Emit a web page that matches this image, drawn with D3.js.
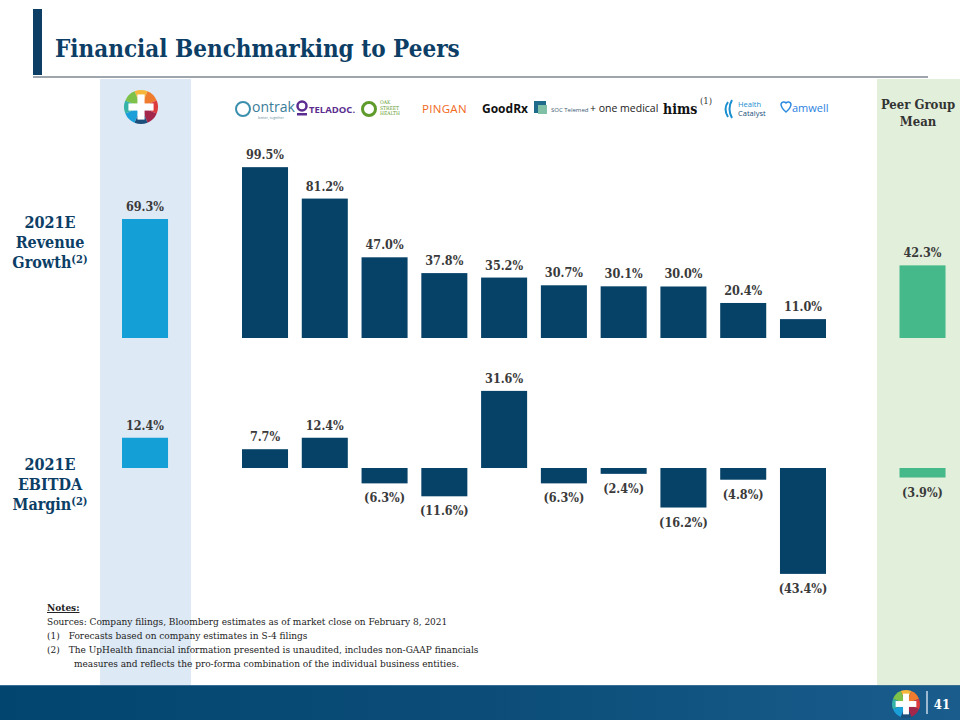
<!DOCTYPE html>
<html><head><meta charset="utf-8">
<script src="https://cdn.jsdelivr.net/npm/d3@7"></script>
<style>body{margin:0;background:#fff}svg{display:block}</style>
</head><body>
<svg id="c" width="960" height="720"></svg>
<script>
// ---- data ----
const peers = ["Ontrak","Teladoc","Oak Street Health","Ping An","GoodRx","SOC Telemed","One Medical","Hims","Health Catalyst","Amwell"];
const revenueGrowth = [99.5, 81.2, 47.0, 37.8, 35.2, 30.7, 30.1, 30.0, 20.4, 11.0];
const ebitdaMargin = [7.7, 12.4, -6.3, -11.6, 31.6, -6.3, -2.4, -16.2, -4.8, -43.4];
const upRevenue = 69.3, upEbitda = 12.4;
const meanRevenue = 42.3, meanEbitda = -3.9;
const noteLines = [
  "Sources: Company filings, Bloomberg estimates as of market close on February 8, 2021",
  "(1)\u2003Forecasts based on company estimates in S-4 filings",
  "(2)\u2003The UpHealth financial information presented is unaudited, includes non-GAAP financials",
  "\u2003\u2003\u2003measures and reflects the pro-forma combination of the individual business entities."
];

const SERIF = "'DejaVu Serif Condensed','DejaVu Serif','Liberation Serif',serif";
const navy = "#0c3e66", barDark = "#064268", upBlue = "#149fd6", green = "#46b98a";
const svg = d3.select("#c");
const fmt = v => v < 0 ? "(" + Math.abs(v).toFixed(1) + "%)" : v.toFixed(1) + "%";

// background bands
svg.append("rect").attr("x",100).attr("y",79).attr("width",91).attr("height",606).attr("fill","#dde9f5");
svg.append("rect").attr("x",877).attr("y",79).attr("width",83).attr("height",606).attr("fill","#e2efda");

// footer
const defs = svg.append("defs");
const g1 = defs.append("linearGradient").attr("id","ft").attr("x1","0").attr("x2","1");
g1.append("stop").attr("offset","0").attr("stop-color","#02466f");
g1.append("stop").attr("offset","0.5").attr("stop-color","#0b4d78");
g1.append("stop").attr("offset","1").attr("stop-color","#1a5c8c");
svg.append("rect").attr("x",0).attr("y",685).attr("width",960).attr("height",35).attr("fill","url(#ft)");
svg.append("line").attr("x1",0).attr("x2",960).attr("y1",685.5).attr("y2",685.5).attr("stroke","#3b6f95").attr("stroke-width",1);
svg.append("line").attr("x1",927).attr("x2",927).attr("y1",691).attr("y2",714).attr("stroke","#c9d9e8").attr("stroke-width",1.5);
svg.append("text").attr("x",942).attr("y",709).attr("text-anchor","middle").attr("font-family",SERIF)
  .attr("font-weight","bold").attr("font-size",13).attr("fill","#fff").text("41");

// title
svg.append("rect").attr("x",33).attr("y",9).attr("width",9).attr("height",66).attr("fill",navy);
svg.append("text").attr("x",55).attr("y",57).attr("font-family",SERIF).attr("font-weight","bold")
  .attr("font-size",24).attr("fill",navy).text("Financial Benchmarking to Peers");
svg.append("line").attr("x1",33).attr("x2",928).attr("y1",77).attr("y2",77).attr("stroke","#7f8790").attr("stroke-width",1.5);

// UpHealth logo
function logo(cx, cy, r){
  const cols = ["#f6b63a","#ef7b2e","#dc3a3c","#a3264b","#1d4f7c","#1b9fd8","#35b3a8","#7dc14a"];
  const arc = d3.arc().innerRadius(0).outerRadius(r);
  const pie = d3.pie().value(1).sort(null).startAngle(-Math.PI/8).endAngle(2*Math.PI - Math.PI/8);
  const g = svg.append("g").attr("transform",`translate(${cx},${cy})`);
  g.selectAll("path").data(pie(cols)).join("path").attr("d",arc).attr("fill",(d,i)=>cols[i]);
  const w = r*0.42, l = r*0.74;
  g.append("rect").attr("x",-w/2).attr("y",-l).attr("width",w).attr("height",2*l).attr("fill","#fff");
  g.append("rect").attr("x",-l).attr("y",-w/2).attr("width",2*l).attr("height",w).attr("fill","#fff");
}
logo(141,107,17);
logo(906,704,14);

// peer logos as text
const lg = svg.append("g").attr("font-family","'Open Sans','DejaVu Sans',sans-serif");
lg.append("circle").attr("cx",243).attr("cy",109).attr("r",7).attr("fill","none").attr("stroke","#3b8fae").attr("stroke-width",2);
lg.append("text").attr("x",252).attr("y",112).attr("font-size",14).attr("fill","#3a7d99").text("ontrak");
lg.append("text").attr("x",258).attr("y",119).attr("font-size",3.5).attr("fill","#6a8fa0").text("better, together");
lg.append("circle").attr("cx",302).attr("cy",106).attr("r",4.5).attr("fill","none").attr("stroke","#5b2d90").attr("stroke-width",2.5);
lg.append("rect").attr("x",297).attr("y",113).attr("width",10).attr("height",2.5).attr("fill","#5b2d90");
lg.append("text").attr("x",309).attr("y",113).attr("font-size",9.5).attr("font-weight","bold").attr("fill","#5b2d90").text("TELADOC.");
lg.append("circle").attr("cx",369).attr("cy",109).attr("r",6.5).attr("fill","none").attr("stroke","#5e9b2a").attr("stroke-width",3);
["OAK","STREET","HEALTH"].forEach((t,i)=>lg.append("text").attr("x",380).attr("y",104+i*5.5).attr("font-family",SERIF).attr("font-size",5).attr("fill","#5e9b2a").text(t));
lg.append("text").attr("x",422).attr("y",113).attr("font-size",11.5).attr("fill","#f06a22").attr("letter-spacing",0.3).text("PINGAN");
lg.append("text").attr("x",482).attr("y",113).attr("font-size",12).attr("font-weight","bold").attr("fill","#111").text("GoodRx");
lg.append("rect").attr("x",534).attr("y",101).attr("width",12).attr("height",12).attr("fill","#1f6b8c");
lg.append("rect").attr("x",538).attr("y",105).attr("width",9).attr("height",9).attr("fill","#7fc0a7");
lg.append("text").attr("x",551).attr("y",112).attr("font-size",6).attr("fill","#3b5a70").text("SOC Telemed");
lg.append("text").attr("x",590).attr("y",112).attr("font-size",10.5).attr("fill","#222").text("+ one medical");
lg.append("text").attr("x",663).attr("y",114).attr("font-family",SERIF).attr("font-size",14).attr("font-weight","bold").attr("fill","#111").text("hims");
lg.append("text").attr("x",700).attr("y",104).attr("font-family",SERIF).attr("font-size",9.5).attr("fill","#333").text("(1)");
lg.append("path").attr("d","M728,102 q-5,7 0,15 M732,100 q-5,9 0,18").attr("fill","none").attr("stroke","#1a8fd0").attr("stroke-width",2);
lg.append("text").attr("x",738).attr("y",107).attr("font-size",7.5).attr("fill","#1a8fd0").text("Health");
lg.append("text").attr("x",738).attr("y",116).attr("font-size",7.5).attr("fill","#1a4f7c").text("Catalyst");
lg.append("path").attr("d","M781,104 a3,3 0 0 1 5,-1 a3,3 0 0 1 5,1 q0,4 -5,8 q-5,-4 -5,-8z").attr("fill","none").attr("stroke","#2a8be0").attr("stroke-width",1.5);
lg.append("text").attr("x",792).attr("y",112).attr("font-size",11).attr("fill","#2a7fe0").text("amwell");

// peer group mean header
svg.append("text").attr("text-anchor","middle").attr("font-family",SERIF).attr("font-weight","bold")
  .attr("font-size",13).attr("fill","#333").selectAll("tspan").data(["Peer Group","Mean"]).join("tspan")
  .attr("x",918).attr("y",(d,i)=>109+i*17).text(d=>d);

// row labels
function rowLabel(lines, y0){
  const t = svg.append("text").attr("text-anchor","middle").attr("font-family",SERIF).attr("font-weight","bold")
    .attr("font-size",16).attr("fill",navy);
  lines.forEach((l,i)=>{
    t.append("tspan").attr("x",50).attr("y",y0+i*20).text(l);
    if(i===lines.length-1){
      t.append("tspan").attr("font-size",11).attr("dy",-5).text("(2)");
    }
  });
}
rowLabel(["2021E","Revenue","Growth"], 228);
rowLabel(["2021E","EBITDA","Margin"], 470);

// scales
const x = d3.scaleBand().domain(peers).range([242, 826]).paddingInner(0.23).paddingOuter(0);
const bw = x.bandwidth();
const yR = d3.scaleLinear().domain([0, 100]).range([338, 338 - 171.7]);
const yE = d3.scaleLinear().domain([-45, 35]).range([468 + 45*2.44, 468 - 35*2.44]);
const xUp = 122, xMean = 899.5;

const labStyle = s => s.attr("text-anchor","middle").attr("font-family",SERIF).attr("font-weight","bold")
  .attr("font-size",12.5).attr("fill","#3a3a3a");

function drawRow(values, y, upVal, meanVal){
  const items = values.map((v,i)=>({x:x(peers[i]), v, c:barDark}));
  items.push({x:xUp, v:upVal, c:upBlue});
  items.push({x:xMean, v:meanVal, c:green});
  const g = svg.append("g");
  g.selectAll("rect").data(items).join("rect")
    .attr("x",d=>d.x).attr("width",bw)
    .attr("y",d=>Math.min(y(d.v), y(0))).attr("height",d=>Math.abs(y(d.v)-y(0)))
    .attr("fill",d=>d.c);
  g.selectAll("text").data(items).join("text").call(labStyle)
    .attr("x",d=>d.x + bw/2)
    .attr("y",d=>d.v >= 0 ? y(d.v) - 8 : y(d.v) + 19)
    .text(d=>fmt(d.v));
}
drawRow(revenueGrowth, yR, upRevenue, meanRevenue);
drawRow(ebitdaMargin, yE, upEbitda, meanEbitda);

// notes
const nt = svg.append("g").attr("font-family",SERIF).attr("font-size",10).attr("fill","#222");
nt.append("text").attr("x",47).attr("y",611).attr("font-weight","bold").attr("text-decoration","underline").text("Notes:");
noteLines.forEach((l,i)=>nt.append("text").attr("x",47).attr("y",625+i*14).attr("xml:space","preserve").text(l));
</script>
</body></html>
